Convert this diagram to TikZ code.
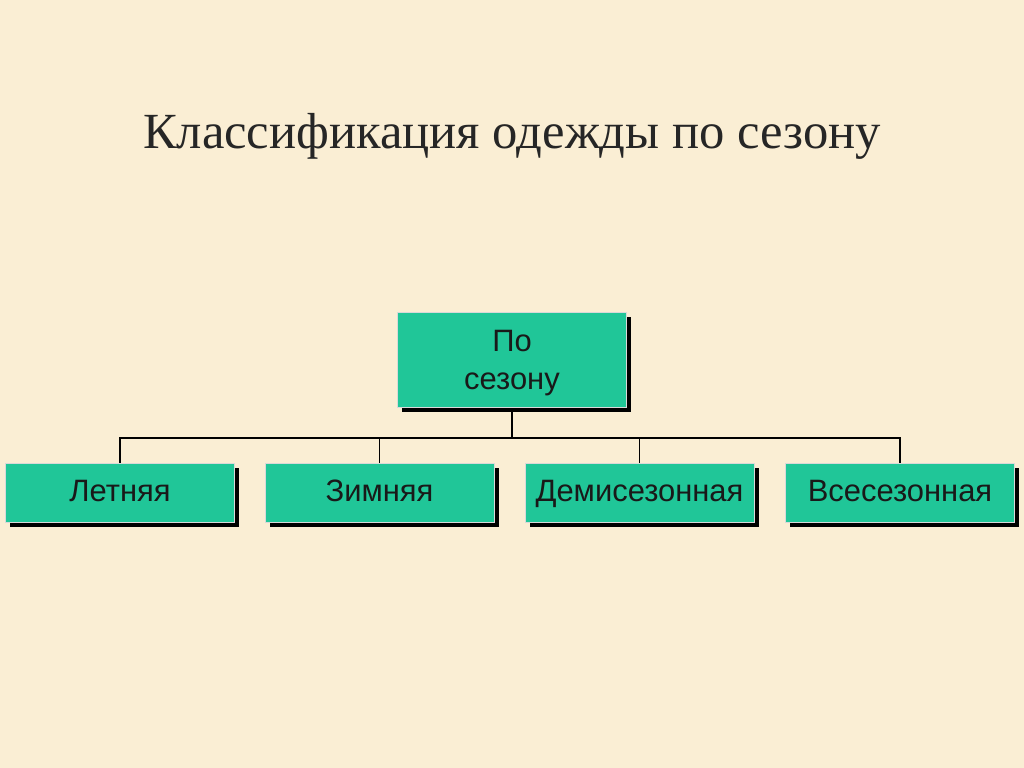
\documentclass[tikz,border=0pt]{standalone}
\usepackage{fontspec}
\setmainfont{Liberation Serif}
\newfontfamily\boxfont{Liberation Sans}
\usetikzlibrary{shadows}
\definecolor{bg}{RGB}{250,238,212}
\definecolor{teal1}{RGB}{32,198,152}
\tikzset{
  box/.style={draw=gray!30, line width=0.5pt, fill=teal1, font=\boxfont\fontsize{22}{27}\selectfont,
    text=black!90, align=center, inner sep=0pt, text height=16pt, text depth=3.5pt,
    drop shadow={shadow xshift=3.3pt, shadow yshift=-3.3pt, fill=black, opacity=1}},
  link/.style={draw=black, line width=1.4pt}
}
\begin{document}
\begin{tikzpicture}[x=0.025cm, y=-0.025cm]
\fill[bg] (0,0) rectangle (1024,768);
\useasboundingbox (0,0) rectangle (1024,768);
\node[font=\fontsize{36}{43}\selectfont, text=black!85] (title) at (512,136) {Классификация одежды по сезону};
\node[box, minimum width=163pt, minimum height=68pt, text height=, text depth=] (top) at (512,360) {\rule{0pt}{20pt}По\\сезону};
\node[box, minimum width=163pt, minimum height=42pt] (b1) at (120,492.5) {Летняя};
\node[box, minimum width=163pt, minimum height=42pt] (b2) at (379.5,492.5) {Зимняя};
\node[box, minimum width=163pt, minimum height=42pt] (b3) at (639.5,492.5) {Демисезонная};
\node[box, minimum width=163pt, minimum height=42pt] (b4) at (900,492.5) {Всесезонная};
\coordinate (bus) at (512,438);
\draw[link] (top.south) -- (bus);
\draw[link] (b1.north) -- (b1.north |- bus) -- (b4.north |- bus) -- (b4.north);
\draw[link] (b2.north) -- (b2.north |- bus);
\draw[link] (b3.north) -- (b3.north |- bus);
\end{tikzpicture}
\end{document}
